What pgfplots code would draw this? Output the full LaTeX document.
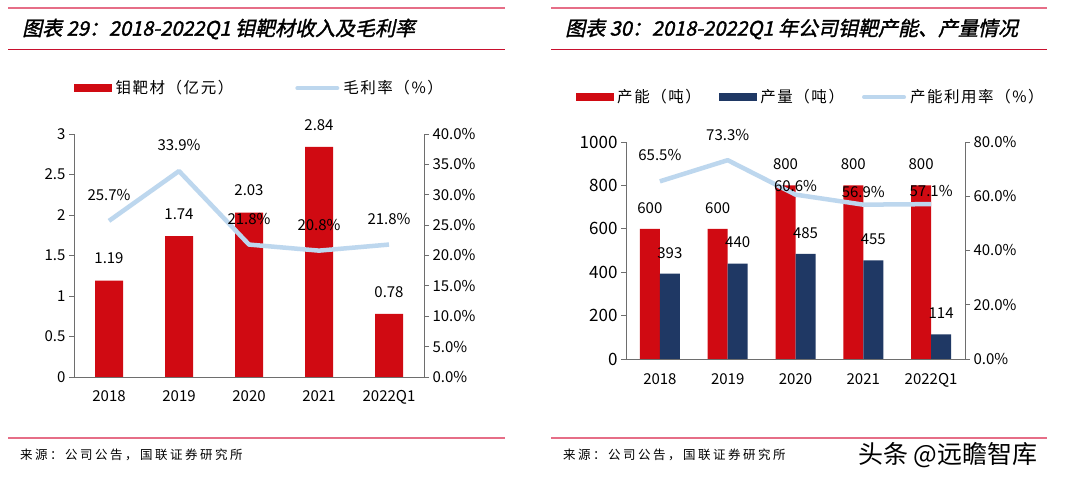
\documentclass[border=0pt]{standalone}
\usepackage{fontspec}
\setmainfont{Noto Sans CJK SC}
\newfontfamily\titlefont[FakeSlant=0.22,FakeBold=1.5]{Noto Sans CJK SC}
\newfontfamily\srcfont[LetterSpace=20]{Noto Sans CJK SC}
\newfontfamily\legfont[LetterSpace=10]{Noto Sans CJK SC}
\usepackage{pgfplots}
\pgfplotsset{compat=1.18}
\definecolor{barred}{RGB}{208,10,18}
\definecolor{barnavy}{RGB}{31,56,100}
\definecolor{lineblue}{RGB}{189,215,238}
\definecolor{pinkline}{RGB}{230,110,135}
\definecolor{titlered}{RGB}{200,16,46}
\definecolor{axisgray}{RGB}{110,110,110}
\tikzset{lab/.style={font=\fontsize{15}{18}\selectfont, text=black}}
\pgfplotsset{
  /pgf/number format/assume math mode=true,
  /pgf/number format/1000 sep={},
  basestyle/.style={
    scale only axis,
    xmin=-0.5, xmax=4.5,
    axis line style={axisgray, line width=0.8pt},
    tick style={axisgray, line width=0.8pt},
    tick align=outside,
    major tick length=5pt,
    ticklabel style={font=\fontsize{15}{18}\selectfont, text=black},
    clip=false,
  },
}
\begin{document}
\begin{tikzpicture}
\path[fill=white] (0pt,0pt) rectangle (1080pt,482pt);
% ---------- left panel decorations
\draw[pinkline, line width=1.5pt] (8pt,474pt) -- (505pt,474pt);
\node[anchor=west, inner sep=0pt] at (22pt,453pt) {\titlefont\fontsize{20}{23}\selectfont 图表 29：2018-2022Q1 钼靶材收入及毛利率};
\draw[titlered, line width=1pt] (8pt,432pt) -- (505pt,432pt);
\draw[pinkline, line width=1.5pt] (8pt,44pt) -- (505pt,44pt);
\node[anchor=west, inner sep=0pt] at (20pt,27pt) {\srcfont\fontsize{12.5}{15}\selectfont 来源：公司公告，国联证券研究所};
% ---------- right panel decorations
\draw[pinkline, line width=1.5pt] (551pt,474pt) -- (1047pt,474pt);
\node[anchor=west, inner sep=0pt] at (565pt,453pt) {\titlefont\fontsize{20}{23}\selectfont 图表 30：2018-2022Q1 年公司钼靶产能、产量情况};
\draw[titlered, line width=1pt] (551pt,432pt) -- (1047pt,432pt);
\draw[pinkline, line width=1.5pt] (551pt,44pt) -- (1047pt,44pt);
\node[anchor=west, inner sep=0pt] at (563pt,27pt) {\srcfont\fontsize{12.5}{15}\selectfont 来源：公司公告，国联证券研究所};
\node[anchor=west, inner sep=0pt] at (858pt,27pt) {\fontsize{25}{28}\selectfont 头条 @远瞻智库};

% ---------- left panel: bars
\begin{axis}[basestyle, at={(74pt,105pt)}, anchor=south west, width=350pt, height=243pt,
  axis y line*=left, axis x line*=bottom,
  ymin=0, ymax=3, ytick={0,0.5,1,1.5,2,2.5,3},
  yticklabels={0,0.5,1,1.5,2,2.5,3},
  xtick={0,1,2,3,4}, xticklabels={2018,2019,2020,2021,2022Q1},
  major x tick style={draw=none},
  xticklabel style={yshift=-5pt},
  ybar, bar width=28pt,
  nodes near coords={\pgfmathprintnumber[fixed,fixed zerofill,precision=2]{\pgfplotspointmeta}},
  every node near coord/.append style={lab, anchor=center, yshift=22pt},
]
\addplot[fill=barred, draw=none] coordinates {(0,1.19) (1,1.74) (2,2.03) (3,2.84) (4,0.78)};
\end{axis}
% ---------- left panel: line
\begin{axis}[basestyle, at={(74pt,105pt)}, anchor=south west, width=350pt, height=243pt,
  axis y line*=right, axis x line=none,
  ymin=0, ymax=40, ytick={0,5,10,15,20,25,30,35,40},
  yticklabel={\pgfmathprintnumber[fixed,fixed zerofill,precision=1]{\tick}\%},
  legend style={at={(0.53,1.189)}, anchor=center, draw=none, fill=none, legend columns=-1,
    font=\legfont\fontsize{15.5}{18}\selectfont,
    /tikz/every odd column/.append style={column sep=2pt},
    /tikz/every even column/.append style={column sep=60pt}},
]
\addlegendimage{legend image code/.code={\fill[barred] (0pt,-3.5pt) rectangle (37pt,3.5pt);}}
\addlegendentry{钼靶材（亿元）}
\addplot[lineblue, line width=4.5pt, mark=none, line join=round,
  legend image code/.code={\draw[lineblue,line width=4pt,line cap=round] (0pt,0pt) -- (40pt,0pt);},
  nodes near coords={\pgfmathprintnumber[fixed,fixed zerofill,precision=1]{\pgfplotspointmeta}\%},
  every node near coord/.append style={lab, anchor=center, yshift=26pt}]
  coordinates {(0,25.7) (1,33.9) (2,21.8) (3,20.8) (4,21.8)};
\addlegendentry{毛利率（\%）}
\end{axis}

% ---------- right panel: bars
\begin{axis}[basestyle, at={(626pt,123pt)}, anchor=south west, width=339pt, height=217pt,
  axis y line*=left, axis x line*=bottom,
  ymin=0, ymax=1000, ytick={0,200,400,600,800,1000},
  yticklabel style={font=\fontsize{17}{20}\selectfont},
  xtick={0,1,2,3,4}, xticklabels={2018,2019,2020,2021,2022Q1},
  major x tick style={draw=none},
  xticklabel style={yshift=-6pt},
  ybar=0pt, bar width=20pt,
  nodes near coords,
  every node near coord/.append style={lab, anchor=center, yshift=21pt},
]
\addplot[fill=barred, draw=none] coordinates {(0,600) (1,600) (2,800) (3,800) (4,800)};
\addplot[fill=barnavy, draw=none] coordinates {(0,393) (1,440) (2,485) (3,455) (4,114)};
\end{axis}
% ---------- right panel: line
\begin{axis}[basestyle, at={(626pt,123pt)}, anchor=south west, width=339pt, height=217pt,
  axis y line*=right, axis x line=none,
  ymin=0, ymax=80, ytick={0,20,40,60,80},
  yticklabel={\pgfmathprintnumber[fixed,fixed zerofill,precision=1]{\tick}\%},
  legend style={at={(0.545,1.207)}, anchor=center, draw=none, fill=none, legend columns=-1,
    font=\legfont\fontsize{15.5}{18}\selectfont,
    /tikz/every odd column/.append style={column sep=2pt},
    /tikz/every even column/.append style={column sep=16pt}},
]
\addlegendimage{legend image code/.code={\fill[barred] (0pt,-3.5pt) rectangle (37pt,3.5pt);}}
\addlegendentry{产能（吨）}
\addlegendimage{legend image code/.code={\fill[barnavy] (0pt,-3.5pt) rectangle (37pt,3.5pt);}}
\addlegendentry{产量（吨）}
\addplot[lineblue, line width=4.5pt, mark=none, line join=round,
  legend image code/.code={\draw[lineblue,line width=4pt,line cap=round] (0pt,0pt) -- (40pt,0pt);},
  visualization depends on={value \thisrow{dy}\as\dy},
  nodes near coords={\pgfmathprintnumber[fixed,fixed zerofill,precision=1]{\pgfplotspointmeta}\%},
  every node near coord/.append style={lab, anchor=center, yshift=\dy pt}]
  table[x=x, y=y] {
x y dy
0 65.5 26
1 73.3 25
2 60.6 9
3 56.9 13
4 57.1 13
};
\addlegendentry{产能利用率（\%）}
\end{axis}
\end{tikzpicture}
\end{document}
